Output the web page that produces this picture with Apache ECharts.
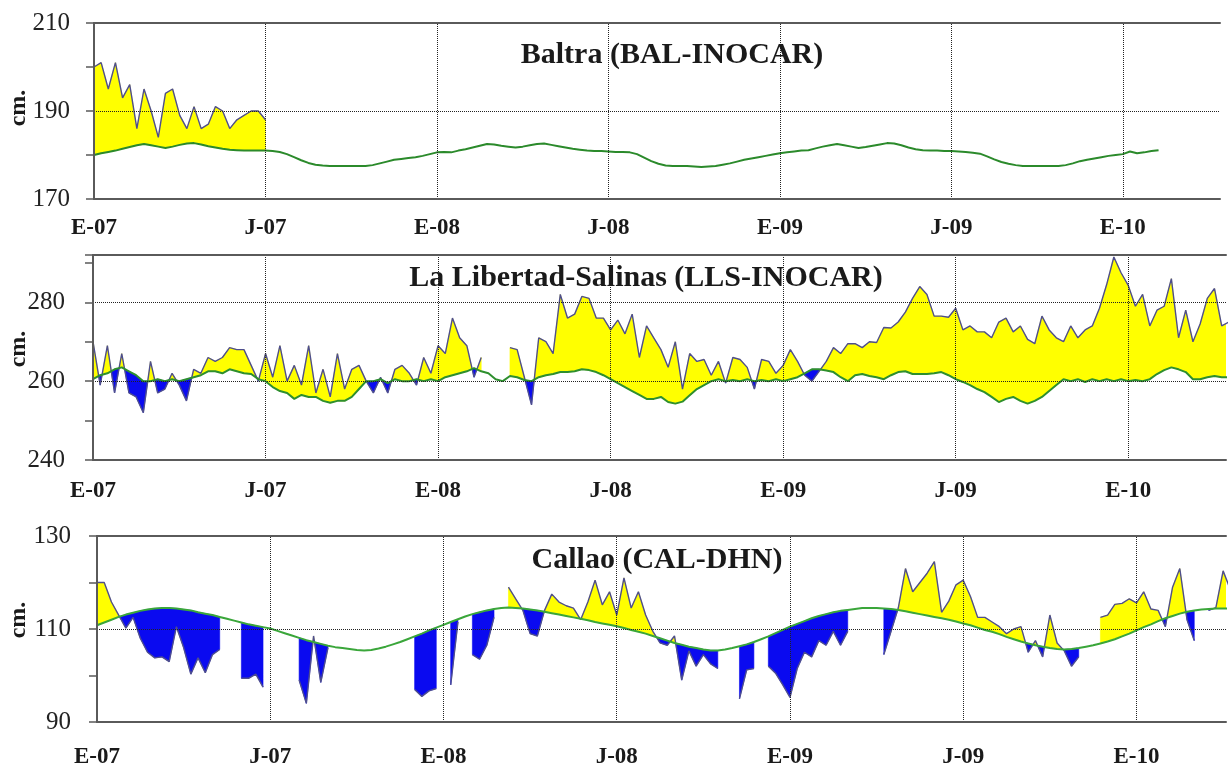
<!DOCTYPE html>
<html>
<head>
<meta charset="utf-8">
<script src="https://cdn.jsdelivr.net/npm/echarts@6/dist/echarts.min.js"></script>
<style>
  html, body { margin: 0; padding: 0; background: #fff; }
  #chart { width: 1229px; height: 769px; }
</style>
</head>
<body>
<div id="chart"></div>
<script>
// sea level (cm) at three tide gauges, one sample every quarter month from E-07
// obs* = observed level, sea* = seasonal mean (green line)
var stepMonths = 0.25;
var tickMonths = [0, 6, 12, 18, 24, 30, 36];
var tickLabels = ['E-07', 'J-07', 'E-08', 'J-08', 'E-09', 'J-09', 'E-10'];

// Baltra - observed only for the first half year
var obsBal = [200, 201, 195, 201, 193, 196, 186, 195, 190, 184, 194, 195,
  189, 186, 191, 186, 187, 191, 190, 186, 188, 189, 190, 190, 188];
var seaBal = [
  180.0, 180.4, 180.7, 181.0, 181.4, 181.8, 182.2, 182.5, 182.2, 181.9, 181.6, 181.9,
  182.3, 182.6, 182.7, 182.4, 182.0, 181.7, 181.4, 181.2, 181.1, 181.0, 181.0, 181.0,
  181.0, 180.9, 180.7, 180.2, 179.5, 178.8, 178.2, 177.8, 177.6, 177.5, 177.5, 177.5,
  177.5, 177.5, 177.5, 177.7, 178.1, 178.5, 178.9, 179.1, 179.3, 179.5, 179.8, 180.2,
  180.6, 180.7, 180.6, 181.0, 181.3, 181.7, 182.1, 182.5, 182.4, 182.1, 181.9, 181.7,
  181.9, 182.2, 182.5, 182.6, 182.3, 182.0, 181.7, 181.4, 181.2, 181.0, 180.9, 180.9,
  180.8, 180.7, 180.7, 180.6, 180.2, 179.4, 178.6, 178.0, 177.6, 177.5, 177.5, 177.5,
  177.4, 177.3, 177.4, 177.5, 177.8, 178.1, 178.5, 178.9, 179.2, 179.5, 179.8, 180.1,
  180.4, 180.6, 180.8, 181.0, 181.1, 181.5, 181.9, 182.2, 182.5, 182.2, 181.9, 181.6,
  181.8, 182.1, 182.4, 182.7, 182.6, 182.2, 181.7, 181.3, 181.1, 181.0, 181.0, 180.9,
  180.9, 180.8, 180.7, 180.5, 180.3, 179.7, 179.0, 178.4, 178.0, 177.7, 177.5, 177.5,
  177.5, 177.5, 177.5, 177.5, 177.7, 178.1, 178.6, 178.9, 179.2, 179.5, 179.8, 180.0,
  180.2, 180.8, 180.4, 180.6, 180.9, 181.1
];

// La Libertad-Salinas
var obsLib = [
  270, 259, 269, 257, 267, 257, 256, 252, 265, 257, 258, 262,
  259, 255, 263, 262, 266, 265, 266, 268.5, 268, 268, 264, 260,
  267, 261, 269, 260, 264, 259, 269, 257, 263, 256, 267, 258,
  263, 264, 260, 257, 261, 257, 263, 264, 262, 259, 266, 262,
  269, 267, 276, 271, 269, 261, 266, null, null, null, 268.5, 268,
  261, 254, 271, 270, 267, 282, 276, 277, 281.5, 281, 276, 276,
  273, 275.5, 272, 277, 266, 274, 271, 268, 263.5, 270, 258, 267,
  265, 265.5, 261.5, 265, 259.5, 266, 265.5, 263.5, 258, 265.5, 265, 262,
  264, 268, 265, 261.5, 260, 262.5, 265, 268.5, 267, 269.5, 269.5, 268.5,
  270, 269.8, 273.6, 273.5, 275, 277.5, 281, 284, 282, 276.5, 276.5, 276.2,
  278.5, 273, 274, 272.5, 272.5, 271, 275, 276, 272.5, 274, 270.6, 269.5,
  276.5, 273, 271, 270, 274, 271, 273, 274, 278.5, 284.5, 291.5, 287.5,
  284.3, 279, 282, 274, 278, 279, 286, 271, 278, 270, 274.5, 281,
  283.5, 274, 275
];
var seaLib = [
  260.5, 261.5, 262, 263, 263.5, 262.5, 261.5, 260, 260, 260.5, 260, 260.5,
  260, 260.5, 261, 261.5, 262.5, 262.5, 262, 263, 262.5, 262, 261.8, 260.5,
  260, 258.5, 257.5, 257, 255.5, 256.5, 256, 256, 255, 254.5, 255, 255,
  256, 258, 260, 260, 260.5, 259.5, 260.5, 260, 260, 260.5, 260, 260.5,
  260, 261, 261.5, 262, 262.5, 263.3, 262.5, 262, 260.5, 260, 261.3, 261,
  260.3, 260, 261, 261.5, 261.8, 262.3, 262.3, 262.5, 263, 262.8, 262.3, 261.5,
  260.5, 259.5, 258.5, 257.5, 256.5, 255.5, 255.5, 256, 254.7, 254.3, 254.8, 256.4,
  258, 259, 260, 260.5, 260, 260.3, 260, 260.5, 260, 260.3, 260, 260.5,
  260, 260.5, 261, 262, 263, 263, 262.7, 262.3, 261, 260, 261.5, 261.8,
  261.3, 261, 260.5, 261.5, 262.3, 262.5, 261.8, 261.8, 261.8, 262, 262.3, 261.5,
  260.5, 259.8, 259, 258, 257.2, 256, 254.7, 255.5, 256, 255, 254.3, 255,
  256, 257.5, 259, 260.5, 260, 260.5, 259.8, 260.5, 260, 260.5, 260, 260.5,
  260, 260.3, 260, 260.5, 261.8, 262.8, 263.5, 263, 262.3, 260.5, 260.5, 261,
  261.3, 261, 261
];

// Callao - gaps where no record
var obsCal = [
  120, 120, 115.8, 113, 110.2, 112.5, 108, 105, 103.8, 104, 103, 110.5,
  106, 100.3, 103.8, 100.6, 104.5, 105.6, null, null, 99.4, 99.4, 100.3, 97.5,
  null, null, null, null, 99, 94, 108.5, 98.5, 106, null, null, null,
  null, null, null, null, null, null, null, null, 97, 95.5, 96.7, 97.2,
  null, 98, 111.5, null, 104.5, 103.5, 106.5, 112.5, null, 119, 116.5, 114,
  109, 108.5, 114, 117.5, 115.8, 115, 114.5, 112, 115.8, 120.5, 115.2, 118,
  113, 121, 114.5, 118, 113, 109.5, 107, 106.5, 108.5, 99, 105.3, 102,
  104.5, 102.5, 101.5, null, null, 95, 101.2, 101.5, null, 102, 100.5, 98,
  95.3, 101.5, 105, 104, 107.5, 106.5, 109.5, 106.5, 109.5, null, null, null,
  null, 104.5, 109.5, 114.5, 123, 118, 120, 122, 124.5, 113.6, 116, 119.5,
  120.5, 117, 112.5, 112.5, 111.5, 110.5, 109, 110, 110.5, 105, 107.5, 104,
  113, 107, 105.3, 102, 104, null, null, 112.5, 113, 115.3, 115.5, 116.5,
  115.6, 118, 114.3, 114, 110.5, 119, 123, 112, 107.5, null, 114, 114.6,
  122.5, 118.5, 117
];
var seaCal = [
  110.8, 111.4, 112.0, 112.6, 113.1, 113.5, 113.9, 114.2, 114.4, 114.5, 114.5, 114.4,
  114.2, 114.0, 113.6, 113.3, 113.0, 112.6, 112.2, 111.8, 111.4, 111.0, 110.7, 110.4,
  110.1, 109.6, 109.1, 108.6, 108.1, 107.6, 107.2, 106.8, 106.4, 106.1, 105.9, 105.7,
  105.5, 105.4, 105.5, 105.8, 106.2, 106.7, 107.2, 107.8, 108.4, 109.0, 109.7, 110.3,
  110.9, 111.5, 112.1, 112.7, 113.2, 113.6, 114.0, 114.3, 114.5, 114.6, 114.5, 114.4,
  114.2, 114.0, 113.7, 113.4, 113.1, 112.8, 112.5, 112.2, 111.9, 111.5, 111.2, 110.9,
  110.6, 110.2, 109.8, 109.4, 109.0, 108.5, 108.0, 107.5, 107.0, 106.6, 106.2, 105.9,
  105.6, 105.4, 105.4, 105.6, 105.9, 106.3, 106.7, 107.2, 107.8, 108.4, 109.1, 109.8,
  110.5, 111.1, 111.7, 112.3, 112.8, 113.2, 113.6, 113.9, 114.1, 114.3, 114.5, 114.5,
  114.5, 114.4, 114.3, 114.1, 113.8, 113.5, 113.2, 112.9, 112.6, 112.3, 112.0, 111.6,
  111.2, 110.8, 110.3, 109.8, 109.4, 108.9, 108.3, 107.8, 107.3, 106.9, 106.5, 106.2,
  105.9, 105.7, 105.6, 105.7, 105.9, 106.2, 106.5, 106.9, 107.3, 107.8, 108.4, 109.0,
  109.7, 110.4, 111.0, 111.7, 112.3, 112.8, 113.3, 113.7, 114.0, 114.2, 114.3, 114.4,
  114.4, 114.4, 114.4
];

var yLabelsBal = [170, 190, 210], yGridBal = [190];
var yLabelsLib = [240, 260, 280], yGridLib = [260, 280];
var yLabelsCal = [90, 110, 130], yGridCal = [110];

var chart = echarts.init(document.getElementById('chart'));

var axisGray = '#5a5a5a';
var serif = '"Liberation Serif", "Times New Roman", serif';
var aboveColor = '#ffff00', belowColor = '#0a0af0';

var panels = [
  { title: 'Baltra (BAL-INOCAR)', tx: 672, ty: 55, cmY: 108,
    obs: obsBal, sea: seaBal, seaColor: '#2b8a2b',
    grid: { left: 94, right: 9, top: 23, height: 176 },
    xMax: 39.4, yMin: 170, yMax: 210, yLabels: yLabelsBal, yGrid: yGridBal,
    xMargin: 18, yMargin: 24 },
  { title: 'La Libertad-Salinas (LLS-INOCAR)', tx: 646, ty: 278, cmY: 349,
    obs: obsLib, sea: seaLib, seaColor: '#2e8f2e',
    grid: { left: 93, right: 0, top: 255, height: 205 },
    xMax: 39.4, yMin: 240, yMax: 292, yLabels: yLabelsLib, yGrid: yGridLib,
    xMargin: 20, yMargin: 28 },
  { title: 'Callao (CAL-DHN)', tx: 657, ty: 560, cmY: 620,
    obs: obsCal, sea: seaCal, seaColor: '#3aa63a',
    grid: { left: 97, right: 0, top: 536, height: 192 },
    xMax: 39.1, yMin: 90, yMax: 130, yLabels: yLabelsCal, yGrid: yGridCal,
    xMargin: 24, yMargin: 26 }
];

// split the band between observed and seasonal into runs of one sign,
// each run becomes one polygon (yellow above, blue below)
function bandRuns(obs, sea) {
  var runs = [], run = null, prev = null;
  function close() {
    if (run && run.top.length > 1) runs.push(run);
    run = null;
  }
  for (var i = 0; i < sea.length; i++) {
    var o = obs[i], s = sea[i], x = i * stepMonths;
    if (o == null || s == null) { close(); prev = null; continue; }
    var d = o - s, sign = d >= 0 ? 1 : -1;
    if (!run) {
      run = { sign: sign, top: [[x, o]], bot: [[x, s]] };
    } else if (sign === run.sign) {
      run.top.push([x, o]); run.bot.push([x, s]);
    } else {
      var t = prev.d / (prev.d - d);
      var xc = prev.x + t * (x - prev.x), yc = prev.o + t * (o - prev.o);
      run.top.push([xc, yc]); run.bot.push([xc, yc]);
      close();
      run = { sign: sign, top: [[xc, yc], [x, o]], bot: [[xc, yc], [x, s]] };
    }
    prev = { x: x, o: o, d: d };
  }
  close();
  return runs;
}

var grids = [], xAxes = [], yAxes = [], series = [], graphics = [];

panels.forEach(function (p, k) {
  grids.push(p.grid);

  // bottom axis with E/J labels
  xAxes.push({
    type: 'value', gridIndex: k, min: 0, max: p.xMax, interval: 6, z: 6,
    axisLine: { onZero: false, lineStyle: { color: axisGray, width: 2 } },
    axisTick: { show: false },
    splitLine: { show: false },
    axisLabel: {
      margin: p.xMargin, fontFamily: serif, fontWeight: 'bold', fontSize: 23, color: '#1a1a1a',
      formatter: function (v) {
        var i = tickMonths.indexOf(v);
        return i >= 0 ? tickLabels[i] : '';
      }
    }
  });
  // top border line
  xAxes.push({
    type: 'value', gridIndex: k, position: 'top', min: 0, max: p.xMax, z: 6,
    axisLine: { onZero: false, lineStyle: { color: axisGray, width: 2 } },
    axisTick: { show: false }, axisLabel: { show: false }, splitLine: { show: false }
  });

  yAxes.push({
    type: 'value', gridIndex: k, min: p.yMin, max: p.yMax, interval: 10, z: 6,
    axisLine: { show: true, onZero: false, lineStyle: { color: axisGray, width: 2 } },
    axisTick: { show: true, length: 8, lineStyle: { color: axisGray, width: 1.5 } },
    splitLine: { show: false },
    axisLabel: {
      margin: p.yMargin, fontFamily: serif, fontSize: 25, color: '#222',
      formatter: function (v) { return p.yLabels.indexOf(v) >= 0 ? String(v) : ''; }
    }
  });

  var runs = bandRuns(p.obs, p.sea);
  series.push({
    type: 'custom', xAxisIndex: 2 * k, yAxisIndex: k, silent: true, z: 1, clip: true,
    data: [[0, p.yMin]],
    renderItem: function (params, api) {
      return {
        type: 'group',
        children: runs.map(function (r) {
          var pts = r.top.concat(r.bot.slice().reverse()).map(function (pt) { return api.coord(pt); });
          var c = r.sign > 0 ? aboveColor : belowColor;
          return { type: 'polygon', shape: { points: pts },
                   style: { fill: c, stroke: c, lineWidth: 0.6 } };
        })
      };
    }
  });

  var seaLine = p.sea.map(function (v, i) { return [i * stepMonths, v]; });
  var obsLine = p.obs.map(function (v, i) { return [i * stepMonths, v]; });

  var gridLines = p.yGrid.map(function (v) { return { yAxis: v }; })
    .concat(tickMonths.slice(1).map(function (m) { return { xAxis: m }; }));

  series.push({
    type: 'line', xAxisIndex: 2 * k, yAxisIndex: k, symbol: 'none', silent: true, z: 3,
    data: obsLine,
    lineStyle: { color: '#4e4e8e', width: 1.4 },
    markLine: {
      silent: true, symbol: ['none', 'none'], label: { show: false },
      lineStyle: { type: 'dotted', color: '#222', width: 1 },
      data: gridLines
    }
  });
  series.push({
    type: 'line', xAxisIndex: 2 * k, yAxisIndex: k, symbol: 'none', silent: true, z: 4,
    data: seaLine,
    lineStyle: { color: p.seaColor, width: 2 }
  });

  graphics.push({
    type: 'text', x: p.tx, y: p.ty, z: 10,
    style: {
      text: p.title, font: 'bold 30px ' + serif, fill: '#1a1a1a',
      align: 'center', verticalAlign: 'middle', textAlign: 'center', textVerticalAlign: 'middle'
    }
  });
  graphics.push({
    type: 'text', x: 19, y: p.cmY, rotation: Math.PI / 2, z: 10,
    style: {
      text: 'cm.', font: 'bold 24px ' + serif, fill: '#1a1a1a',
      align: 'center', verticalAlign: 'middle', textAlign: 'center', textVerticalAlign: 'middle'
    }
  });
});

chart.setOption({
  animation: false,
  backgroundColor: '#fff',
  grid: grids,
  xAxis: xAxes,
  yAxis: yAxes,
  series: series,
  graphic: graphics
});
</script>
</body>
</html>
